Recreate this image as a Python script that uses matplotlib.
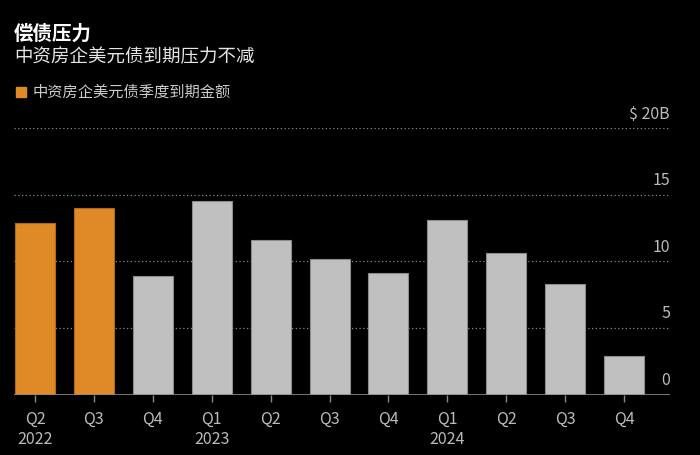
import numpy as np
import matplotlib
matplotlib.use("Agg")
import matplotlib.pyplot as plt

plt.rcParams['font.family'] = ['Noto Sans CJK SC', 'DejaVu Sans']

# quarterly maturities, $ billions
quarters = ["Q2", "Q3", "Q4", "Q1", "Q2", "Q3", "Q4", "Q1", "Q2", "Q3", "Q4"]
years = ["2022", "", "", "2023", "", "", "", "2024", "", "", ""]
amounts = [12.9, 14.0, 8.9, 14.5, 11.6, 10.2, 9.1, 13.1, 10.6, 8.3, 2.9]
is_past = [True, True, False, False, False, False, False, False, False, False, False]
y_ticks = [0, 5, 10, 15, 20]
y_labels = ["0", "5", "10", "15", "$ 20B"]

orange = "#DF8A26"
grey = "#C0C0C0"
bg = "#000000"

fig = plt.figure(figsize=(7, 4.55), dpi=100, facecolor=bg)
W, H = 700, 455
ax = fig.add_axes([14 / W, 1 - 394.5 / H, (670 - 14) / W, (394.5 - 128) / H])
ax.set_facecolor(bg)

x = np.arange(len(amounts))
colors = [orange if p else grey for p in is_past]
edges = ["#B06A18" if p else "#8C8C8C" for p in is_past]
ax.bar(x, amounts, width=0.68, color=colors, edgecolor=edges, linewidth=0.8, zorder=3)

ax.set_xlim(-0.357, 10.78)
ax.set_ylim(0, 20)

# dotted gridlines with labels sitting above them at the right
for t, lab in zip(y_ticks, y_labels):
    if t > 0:
        ax.axhline(t, color="#8A8A8A", linestyle=(0, (1, 2)), linewidth=0.9, zorder=1)
    ax.text(1.0, t + 1.05, lab, transform=ax.get_yaxis_transform(), ha="right",
            va="center", color="#BBBBBB", fontsize=11.5)
ax.axhline(0, color="#8A8A8A", linewidth=1.2, zorder=4)

ax.set_yticks([])
ax.set_xticks(x)
ax.set_xticklabels([q + ("\n" + y if y else "") for q, y in zip(quarters, years)],
                   color="#BBBBBB", fontsize=11.5, linespacing=1.25, va="top")
ax.tick_params(axis="x", length=5, color="#8A8A8A", width=1, pad=7)
for s in ax.spines.values():
    s.set_visible(False)

fig.text(14 / W, 1 - 34 / H, "偿债压力", color="white", fontsize=14,
         fontweight="bold", va="center")
fig.text(14 / W, 1 - 57 / H, "中资房企美元债到期压力不减", color="#E6E6E6",
         fontsize=13.3, va="center")
fig.patches.append(plt.Rectangle((16 / W, 1 - 97 / H), 10 / W, 10 / H,
                                 transform=fig.transFigure, color=orange))
fig.text(33 / W, 1 - 92.5 / H, "中资房企美元债季度到期金额", color="#CCCCCC",
         fontsize=11, va="center")

fig.savefig("out.png", dpi=100, facecolor=bg)
